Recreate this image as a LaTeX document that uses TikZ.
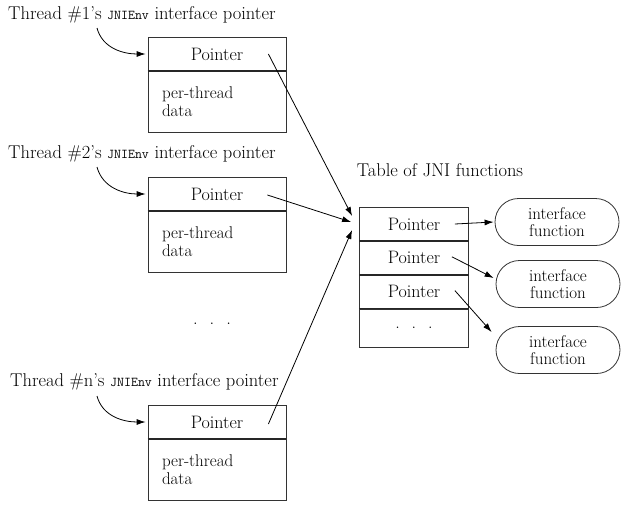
\documentclass[tikz,border=0pt]{standalone}
\usepackage{tikz}
\usetikzlibrary{arrows.meta,positioning,shapes.misc}

\begin{document}
\begin{tikzpicture}[
  x=1pt, y=-1pt,
  every node/.style={font=\fontsize{18.5}{19}\selectfont},
  lbl/.style={inner sep=0pt, anchor=west},
  cell/.style={draw=black!80, line width=0.8pt, minimum width=138pt,
               minimum height=33pt, inner sep=0pt, font=\fontsize{18}{18}\selectfont},
  datacell/.style={draw=black!80, line width=0.8pt, minimum width=138pt,
               minimum height=61pt, text width=110pt, align=left, inner sep=0pt,
               font=\fontsize{17}{18}\selectfont},
  tcell/.style={draw=black!80, line width=0.8pt, minimum width=109pt,
               minimum height=33pt, inner sep=0pt, font=\fontsize{18}{18}\selectfont},
  func/.style={draw=black!80, line width=0.8pt, rounded rectangle,
               minimum width=124pt, minimum height=47pt, inner sep=0pt,
               align=center, font=\fontsize{17}{17}\selectfont},
  divider/.style={line width=1.8pt, black!85},
  arr/.style={-{Latex[length=9pt, width=6pt]}, line width=0.8pt},
]
  \useasboundingbox (0,0) rectangle (627,504);

  % thread labels
  \node[lbl] (l1) at (8,15)  {Thread \#1's {\ttfamily\fontsize{13.5}{12}\selectfont JNIEnv} interface pointer};
  \node[lbl] (l2) at (8,154) {Thread \#2's {\ttfamily\fontsize{13.5}{12}\selectfont JNIEnv} interface pointer};
  \node[lbl] (ln) at (10,382) {Thread \#n's {\ttfamily\fontsize{13.5}{12}\selectfont JNIEnv} interface pointer};

  % per-thread boxes
  \node[cell] (p1) at (217,54) {Pointer};
  \node[datacell, below=0pt of p1] (d1) {per-thread\\data};
  \node[cell] (p2) at (217,194) {Pointer};
  \node[datacell, below=0pt of p2] (d2) {per-thread\\data};
  \node[cell] (pn) at (217,422) {Pointer};
  \node[datacell, below=0pt of pn] (dn) {per-thread\\data};
  \foreach \c in {p1,p2,pn}
    \draw[divider] (\c.south west) -- (\c.south east);

  \node (dots) at (212,324) {.\hspace{12pt}.\hspace{12pt}.};

  % table of JNI functions
  \node (ttl) at (440,170) {Table of JNI functions};
  \node[tcell] (t1) at (414,224) {Pointer};
  \node[tcell, below=0pt of t1] (t2) {Pointer};
  \node[tcell, below=0pt of t2] (t3) {Pointer};
  \node[tcell, below=0pt of t3, minimum height=38pt] (t4) {.\hspace{12pt}.\hspace{12pt}.};
  \foreach \c in {t1,t2,t3}
    \draw[divider] (\c.south west) -- (\c.south east);

  % interface functions
  \node[func] (f1) at (557,222) {interface\\function};
  \node[func] (f2) at (558,284) {interface\\function};
  \node[func] (f3) at (558,350) {interface\\function};

  % connectors
  \coordinate (s1) at (97,28);
  \coordinate (s2) at (97,167);
  \coordinate (sn) at (97,396);
  \draw[arr] (s1) to[out=-75, in=180] ([xshift=-2]p1.west);
  \draw[arr] (s2) to[out=-75, in=180] ([xshift=-2]p2.west);
  \draw[arr] (sn) to[out=-75, in=180] ([xshift=-2]pn.west);

  \draw[arr] ([shift={(-18,0)}]p1.east) -- ([shift={(-7,-8)}]t1.west);
  \draw[arr] ([shift={(-19,1)}]p2.east) -- ([shift={(-8,-2)}]t1.west);
  \draw[arr] ([shift={(-18,2)}]pn.east) -- ([shift={(-7,6)}]t1.west);

  \draw[arr] ([xshift=-14]t1.east) -- ([xshift=-1]f1.west);
  \draw[arr] ([shift={(-17,-1)}]t2.east) -- ([shift={(-2,-6)}]f2.west);
  \draw[arr] ([shift={(-14,-1)}]t3.east) -- ([shift={(-4,-18)}]f3.west);
\end{tikzpicture}
\end{document}
